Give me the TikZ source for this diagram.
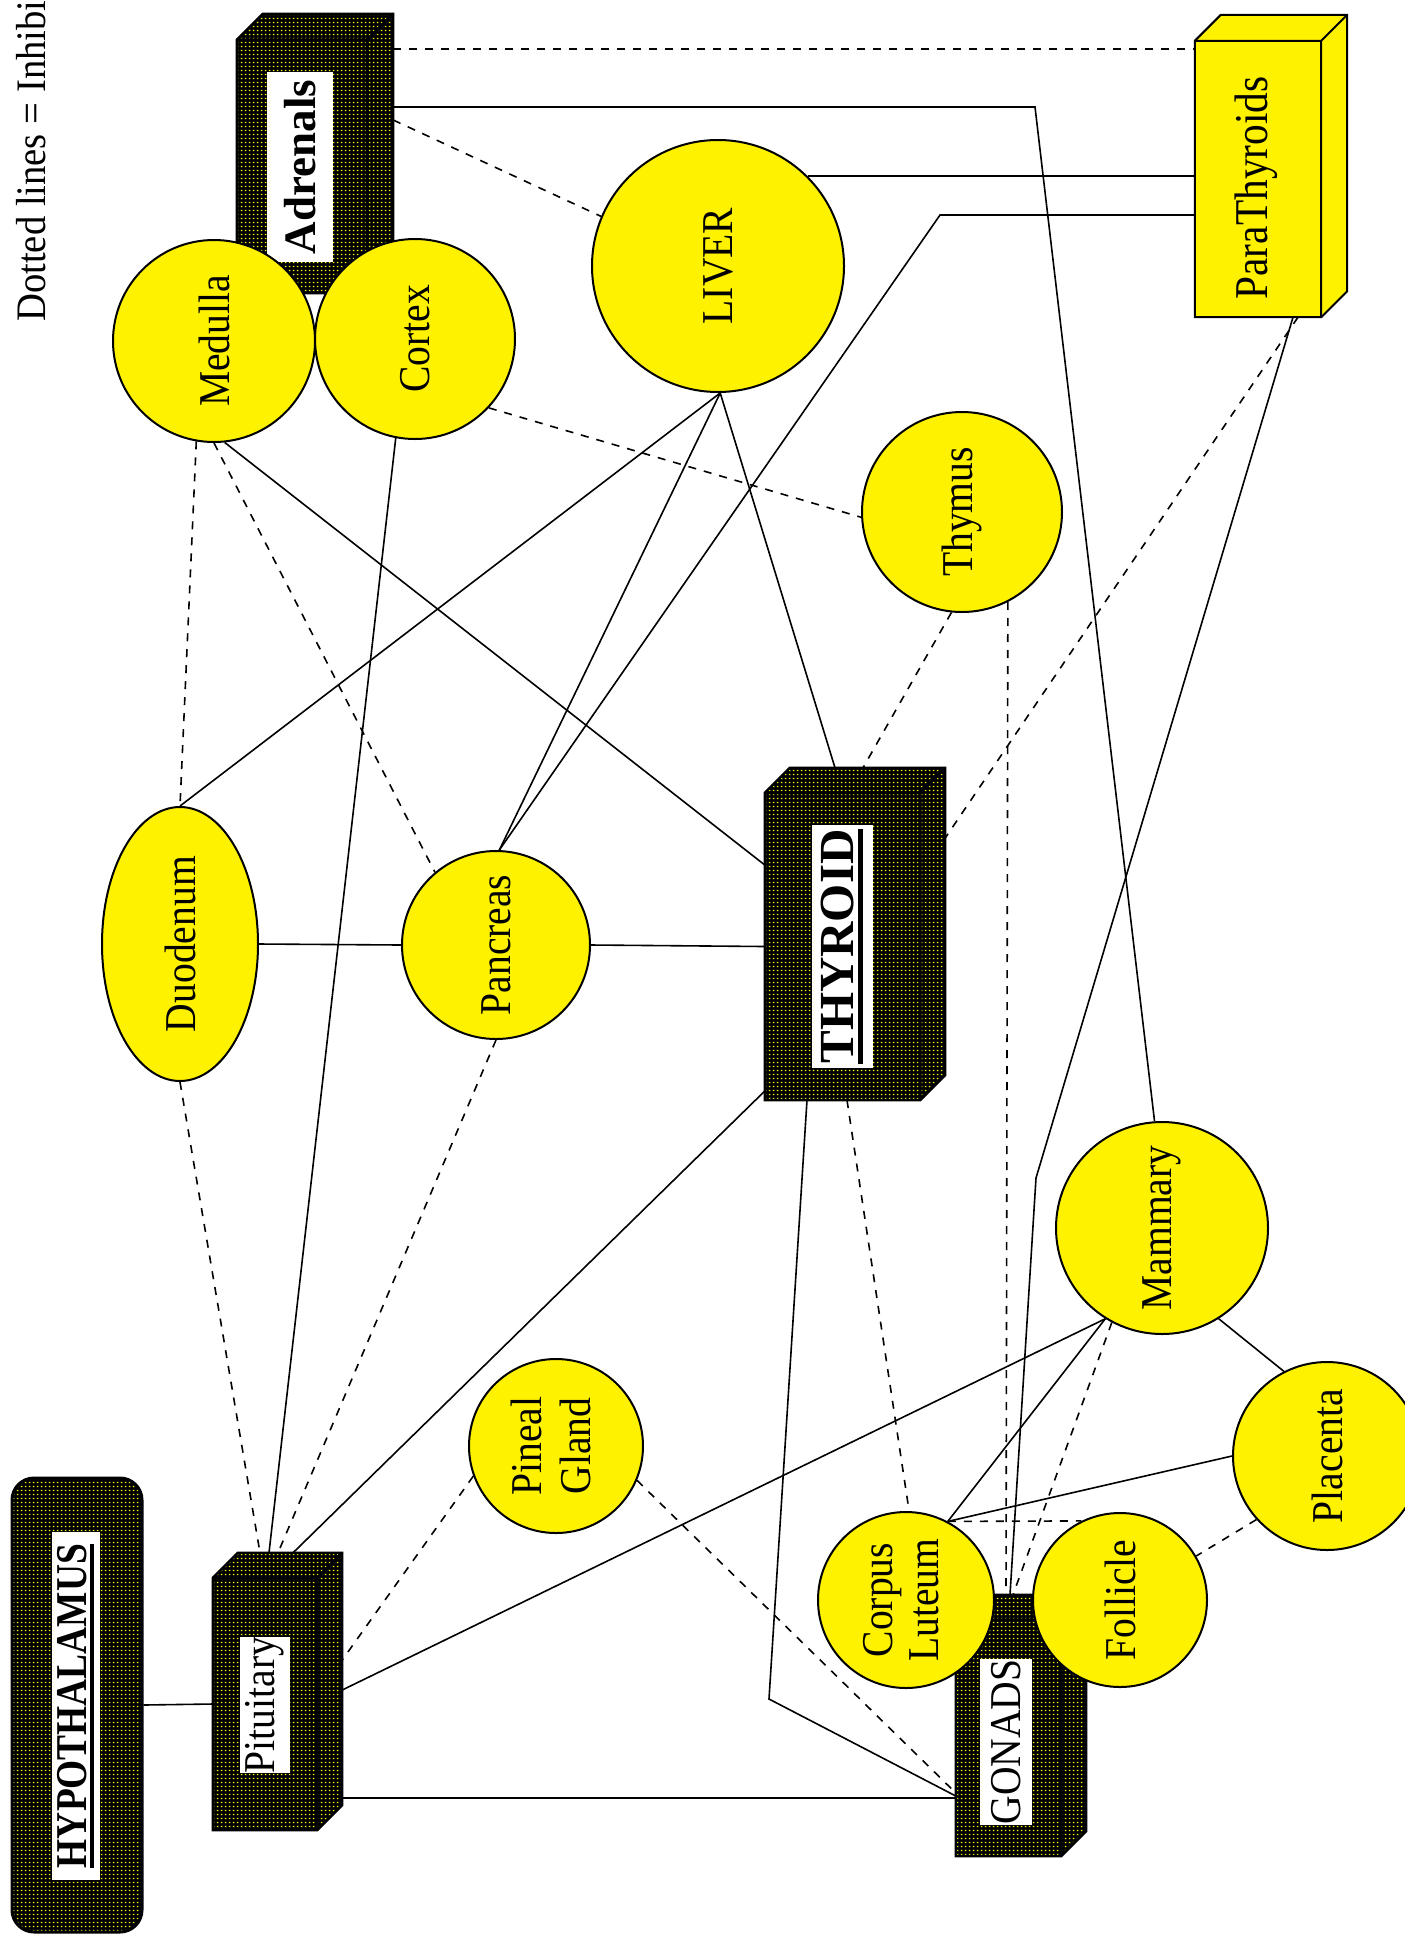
\documentclass[tikz,border=0pt]{standalone}
\usepackage{fontspec}
\setmainfont{Liberation Serif}
\usepackage{graphicx}
\usetikzlibrary{shapes.geometric,patterns,calc}
\pgfdeclarelayer{back}
\pgfdeclarelayer{bg}
\pgfsetlayers{back,bg,main}
\pgfdeclarepatternformonly{ydots}{\pgfqpoint{0pt}{0pt}}{\pgfqpoint{4pt}{4pt}}{\pgfqpoint{4pt}{4pt}}{\pgfpathrectangle{\pgfqpoint{1pt}{1pt}}{\pgfqpoint{1.8pt}{1.8pt}}\pgfusepath{fill}}
\newcommand{\lbl}[1]{\rotatebox{90}{\scalebox{0.9}[1]{\fontsize{44}{47}\selectfont #1}}}
\newcommand{\twolbl}[3]{\rotatebox{90}{\scalebox{0.9}[1]{\fontsize{44}{#3}\selectfont\begin{tabular}{@{}c@{}}#1\\#2\end{tabular}}}}
\newcommand{\myul}[3]{\vtop{\hbox{#1}\kern #2\hrule height #3}}
\newcommand{\boxthreed}[4]{%
  \path[#3] (#1.south west) -- (#1.north west) -- ([shift={(#2,-#2)}]#1.north west) -- ([shift={(#2,-#2)}]#1.north east) -- ([shift={(#2,-#2)}]#1.south east) -- (#1.south east) -- cycle;
  \draw[#4] (#1.north west) -- (#1.north east) -- (#1.south east) (#1.north east) -- ([shift={(#2,-#2)}]#1.north east);
}
\tikzset{
  organ/.style={circle, draw=black, line width=2pt, fill=yellow, inner sep=0pt, minimum size=#1},
  face/.style={rectangle, draw=none, inner sep=0pt},
  patfill/.style={preaction={fill=black}, preaction={pattern=ydots, pattern color=yellow}, draw=black, line width=2.5pt, line join=miter},
  patedge/.style={draw=black, line width=3pt},
  yelfill/.style={fill=yellow, draw=black, line width=2pt, line join=miter},
  yeledge/.style={draw=black, line width=2pt},
  whitelabel/.style={rectangle, fill=white, inner sep=0pt},
  con/.style={line width=1.6pt},
  inh/.style={line width=1.6pt, dash pattern=on 8pt off 8pt}
}
\begin{document}
\begin{tikzpicture}[x=1pt,y=-1pt]
\useasboundingbox (0,0) rectangle (1405,1944);
\begin{pgfonlayer}{back}
\fill[white] (0,0) rectangle (1405,1944);
\end{pgfonlayer}
\clip (0,0) rectangle (1405,1944);

% legend
\node[rotate=90, anchor=base west, inner sep=0pt] (legend) at (45,322) {\scalebox{0.92}[1]{\fontsize{42}{48}\selectfont Dotted lines = Inhibition}};

% Hypothalamus
\node[patfill, line width=3pt, rounded corners=22pt, minimum width=130, minimum height=454, inner sep=0pt] (hyp) at (77,1705) {};
\node[whitelabel, minimum width=48, minimum height=348] (hypl) at (76,1706) {\rotatebox{90}{\scalebox{0.85}[1]{\fontsize{44}{48}\selectfont\bfseries\myul{HYPOTHALAMUS}{3pt}{4pt}}}};

% Pituitary
\node[face, minimum width=104, minimum height=252] (pit) at (265,1704) {};
\boxthreed{pit}{25}{patfill}{patedge}
\node[whitelabel, minimum width=50, minimum height=135] (pitl) at (265,1705) {\lbl{Pituitary}};

% Adrenals
\node[face, minimum width=130, minimum height=253] (adr) at (302,166.5) {};
\boxthreed{adr}{26}{patfill}{patedge}
\node[whitelabel, minimum width=66, minimum height=190] (adrl) at (300,167) {\rotatebox{90}{\fontsize{45}{48}\selectfont\bfseries Adrenals}};

\node[organ=202] (med) at (214,341) {\lbl{Medulla}};
\node[organ=200] (cor) at (415,339) {\lbl{Cortex}};
\node[organ=252] (liver) at (718,266) {\lbl{LIVER}};

% ParaThyroids
\node[face, minimum width=126, minimum height=276] (para) at (1258,179) {};
\boxthreed{para}{26}{yelfill}{yeledge}
\node[inner sep=0pt] (paral) at (1256,188) {\rotatebox{90}{\scalebox{0.88}[1]{\fontsize{47}{50}\selectfont ParaThyroids}}};

\node[organ=200] (thymus) at (962,512) {\lbl{Thymus}};
\node[ellipse, draw=black, line width=2pt, fill=yellow, inner sep=0pt, minimum width=156, minimum height=274] (duo) at (180,944) {\lbl{Duodenum}};
\node[organ=188] (pan) at (496,945) {\lbl{Pancreas}};

% Thyroid
\node[face, minimum width=155, minimum height=307] (thy) at (842.5,946.5) {};
\boxthreed{thy}{25}{patfill}{patedge}
\node[whitelabel, minimum width=61, minimum height=243] (thyl) at (842.5,946.5) {\rotatebox{90}{\fontsize{49}{52}\selectfont\bfseries\myul{THYROID}{4pt}{5pt}}};

\node[organ=212] (mam) at (1162,1228) {\lbl{Mammary}};
\node[organ=174] (pin) at (556,1446) {\twolbl{Pineal}{Gland}{49}};
\node[organ=188] (plac) at (1327,1456) {\lbl{Placenta}};

% Gonads
\node[face, minimum width=105, minimum height=236] (gon) at (1008.5,1738) {};
\boxthreed{gon}{25}{patfill}{patedge}
\node[whitelabel, minimum width=52, minimum height=166] (gonl) at (1006,1742) {\lbl{GONADS}};

\node[organ=176] (cl) at (906,1600) {\twolbl{Corpus}{Luteum}{46}};
\node[organ=174] (fol) at (1120,1600) {\lbl{Follicle}};

\coordinate (b1) at (1035,107);
\coordinate (b2) at (940,215);
\coordinate (b3) at (1036,1178);
\coordinate (b4) at (769,1699);

\begin{pgfonlayer}{bg}
% solid connectors
\draw[con] (hyp.east) -- (pit.west);
\draw[con] ([xshift=25pt,yshift=-94pt]pit.east) -- ([yshift=-60pt]gon.west);
\draw[con] ([xshift=25pt,yshift=14pt]pit.east) -- (mam.-122);
\draw[con] ([xshift=28pt,yshift=25pt]pit.north) -- ([yshift=-144.5pt]thy.west);
\draw[con] (cor.-101) -- ([xshift=4pt,yshift=25pt]pit.north);
\draw[con] (med.-84) -- ([yshift=81.5pt]thy.west);
\draw[con] (duo.east) -- (pan.west);
\draw[con] (pan.east) -- (thy.west);
\draw[con] (duo.north) -- (liver.-89);
\draw[con] (pan.88) -- (liver.-89);
\draw[con] (pan.88) -- (b2) -- ([yshift=-36pt]para.west);
\draw[con] (liver.45) -- (liver.45 -| para.west);
\draw[con] (liver.-89) -- ([xshift=-7.5pt,yshift=25pt]thy.north);
\draw[con] ([xshift=26pt,yshift=59.5pt]adr.east) -- (b1) -- (mam.94);
\draw[con] ([xshift=35pt]para.south) -- (b3) -- ([xshift=1.5pt,yshift=25pt]gon.north);
\draw[con] ([xshift=-35.5pt]thy.south) -- (b4) -- ([yshift=-58pt]gon.west);
\draw[con] (mam.-58) -- (plac.117);
\draw[con] (mam.-122) -- (cl.62);
\draw[con] (plac.180) -- (cl.62);
% dotted (inhibition) connectors
\draw[inh] ([xshift=26pt,yshift=117.5pt]adr.east) -- ([yshift=130pt]para.west);
\draw[inh] ([xshift=26pt,yshift=46.5pt]adr.east) -- (liver.157);
\draw[inh] (cor.-43) -- (thymus.183);
\draw[inh] (med.-100) -- (duo.north);
\draw[inh] (med.-90) -- (pan.130);
\draw[inh] (duo.south) -- ([xshift=-5pt,yshift=25pt]pit.north);
\draw[inh] (pan.-90) -- ([xshift=13pt,yshift=25pt]pit.north);
\draw[inh] (pin.200) -- ([xshift=25pt,yshift=44pt]pit.east);
\draw[inh] (pin.-23) -- ([yshift=-55pt]gon.west);
\draw[inh] (thymus.-96) -- ([xshift=20.5pt,yshift=25pt]thy.north);
\draw[inh] (thymus.-63) -- ([xshift=-2.5pt,yshift=25pt]gon.north);
\draw[inh] ([xshift=40pt]para.south) -- ([xshift=25pt,yshift=108.5pt]thy.east);
\draw[inh] ([xshift=4.5pt]thy.south) -- (cl.88);
\draw[inh] (mam.-118) -- ([xshift=4.5pt,yshift=25pt]gon.north);
\draw[inh] (cl.62) -- (fol.116);
\draw[inh] (plac.-138) -- (fol.30);
\end{pgfonlayer}
\end{tikzpicture}
\end{document}
